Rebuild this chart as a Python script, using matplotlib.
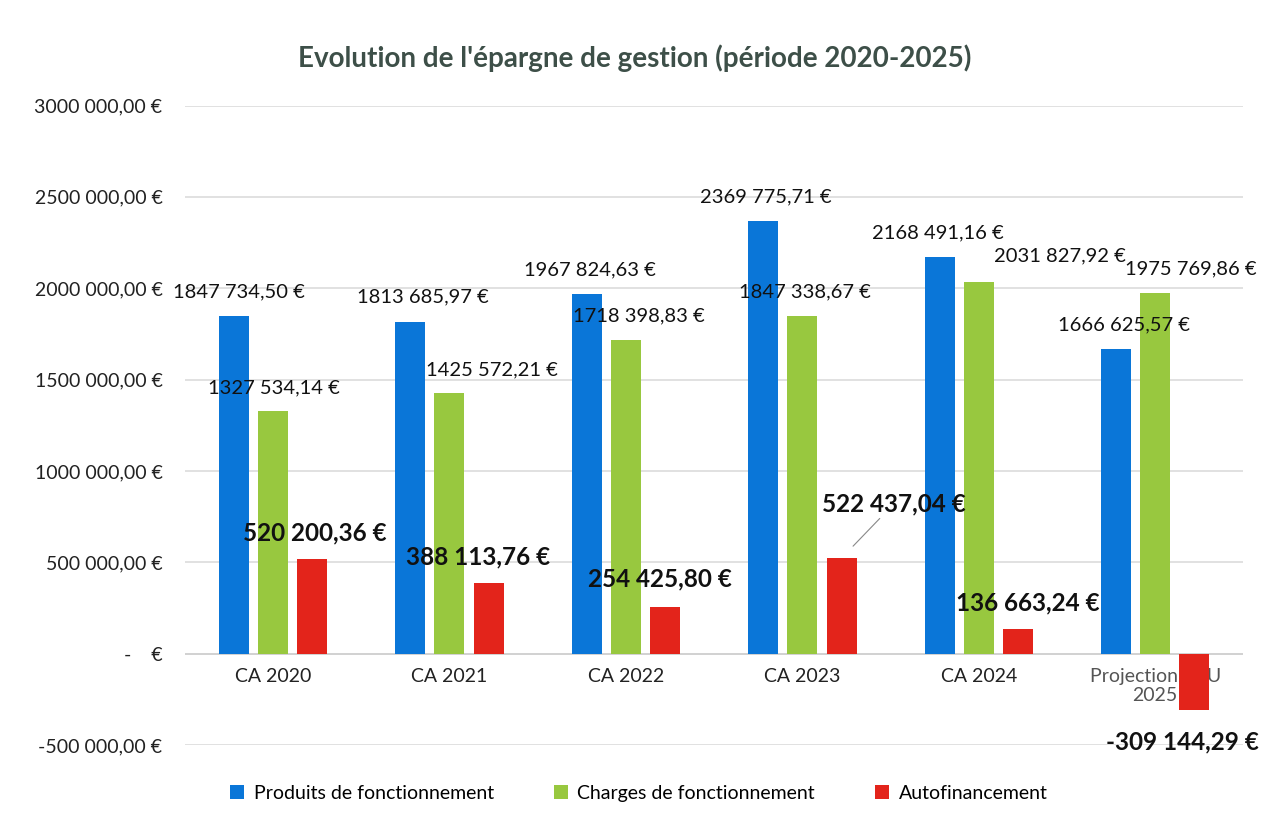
import matplotlib
matplotlib.use("Agg")
from matplotlib import pyplot as plt
import numpy as np

plt.rcParams['font.family'] = ['Lato', 'DejaVu Sans']

# data
categories = ["CA 2020", "CA 2021", "CA 2022", "CA 2023", "CA 2024", "Projection CFU\n2025"]
produits = [1847734.50, 1813685.97, 1967824.63, 2369775.71, 2168491.16, 1666625.57]
charges = [1327534.14, 1425572.21, 1718398.83, 1847338.67, 2031827.92, 1975769.86]
autofin = [520200.36, 388113.76, 254425.80, 522437.04, 136663.24, -309144.29]
yticks = [-500000, 0, 500000, 1000000, 1500000, 2000000, 2500000, 3000000]

# label offsets in pixels (label centre relative to bar end), as in the original
off_prod = [(5, 24), (13, 25), (3, 24), (3, 24), (-2, 25), (8, 24)]
off_char = [(1, 23), (43, 23), (13, 24), (3, 24), (81, 27), (36, 24)]
off_auto = [(3, 26), (-11, 26), (-5, 28), (52, 54), (10, 26), (-12, -32)]

BLUE = "#0a76d8"
GREEN = "#98c83f"
RED = "#e3241b"


def euro(v):
    if v == 0:
        return "-    €"
    sign = "-" if v < 0 else ""
    v = abs(v)
    cents = int(round(v * 100))
    ints, dec = divmod(cents, 100)
    th, rest = divmod(ints, 1000)
    if th:
        s = f"{th} {rest:03d},{dec:02d} €"
    else:
        s = f"{rest},{dec:02d} €"
    return sign + s


fig = plt.figure(figsize=(12.65, 8.23), dpi=100)
ax = fig.add_axes([0.146, 0.0948, 0.837, 0.777])
ax.set_axisbelow(True)

x = np.arange(len(categories))
w = 0.17
step = 0.222
b1 = ax.bar(x - step, produits, w, color=BLUE, zorder=3, label="Produits de fonctionnement")
b2 = ax.bar(x, charges, w, color=GREEN, zorder=3, label="Charges de fonctionnement")
b3 = ax.bar(x + step, autofin, w, color=RED, zorder=3, label="Autofinancement")

ax.set_xlim(-0.5, len(categories) - 0.5)
ax.set_ylim(-500000, 3000000)
ax.set_yticks(yticks)
ax.set_yticklabels([euro(v) for v in yticks])
ax.yaxis.grid(True, color="#dcdcdc", linewidth=1.2)
for s in ax.spines.values():
    s.set_visible(False)
# category labels sit just under the zero line
ax.spines["bottom"].set_position(("data", 0))
ax.tick_params(axis="both", length=0, labelsize=14, colors="#222222")
ax.tick_params(axis="y", pad=16)
ax.set_xticks(x)
ax.set_xticklabels(categories, linespacing=1.15)
ax.tick_params(axis="x", pad=10)
for t in ax.get_xticklabels()[-1:]:
    t.set_color("#555555")

# zero line
ax.axhline(0, color="#d0d0d0", linewidth=1.2, zorder=1)

for i in range(len(categories)):
    ax.annotate(euro(produits[i]), (x[i] - step, produits[i]), xytext=off_prod[i],
                textcoords="offset pixels", ha="center", va="center", fontsize=14.5,
                color="#111111", zorder=5)
    ax.annotate(euro(charges[i]), (x[i], charges[i]), xytext=off_char[i],
                textcoords="offset pixels", ha="center", va="center", fontsize=14.5,
                color="#111111", zorder=5)
    kw = {}
    if i == 3:
        kw = dict(arrowprops=dict(arrowstyle="-", color="#888888", lw=0.8,
                                  shrinkA=0, shrinkB=12))
    ax.annotate(euro(autofin[i]), (x[i] + step, autofin[i]), xytext=off_auto[i],
                textcoords="offset pixels", ha="center", va="center", fontsize=17.5,
                fontweight="bold", color="#111111", zorder=5, **kw)

fig.text(0.502, 0.929, "Evolution de l'épargne de gestion (période 2020-2025)",
         ha="center", va="center", fontsize=20, fontweight="bold", color="#3d4f48")

fig.legend(handles=[b1, b2, b3], loc="center", bbox_to_anchor=(0.505, 0.036), ncol=3,
           frameon=False, fontsize=14, handlelength=0.7, handleheight=0.7,
           columnspacing=3.1, handletextpad=0.5)

fig.savefig("out.png", dpi=100)
